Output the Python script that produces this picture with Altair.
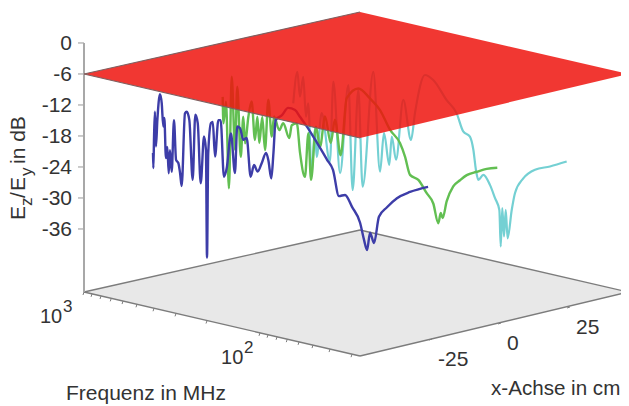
import altair as alt
import pandas as pd
import math

# ---- data: log10(frequency in MHz) and level in dB at each x position
blue_cm = -25
blue_logf = [3.00,2.998,2.994,2.989,2.983,2.975,2.96,2.95,2.941,2.935,2.926,2.918,2.91,2.903,2.893,2.88,2.868,2.855,2.845,2.836,2.817,2.807,2.792,2.773,2.758,2.744,2.727,2.708,2.697,2.691,2.684,2.668,2.658,2.645,2.626,2.613,2.594,2.578,2.554,2.531,2.518,2.502,2.483,2.464,2.441,2.422,2.401,2.378,2.353,2.34,2.323,2.311,2.298,2.262,2.227,2.187,2.159,2.119,2.061,2.004,1.97,1.936,1.901,1.861,1.815,1.792,1.775,1.758,1.735,1.707,1.661,1.604,1.529,1.426]
blue_db = [-24.3,-27.2,-21.1,-16.2,-22.9,-17.7,-12.6,-14.3,-18.7,-17.0,-24.7,-22.5,-27.5,-23.0,-27.1,-17.0,-24.6,-25.1,-27.0,-29.4,-15.2,-14.8,-16.3,-27.7,-15.0,-16.5,-28.0,-18.8,-21.3,-42.1,-21.9,-15.9,-15.6,-22.2,-15.0,-14.9,-25.7,-23.9,-17.0,-24.5,-15.4,-15.6,-17.7,-17.2,-24.5,-22.1,-23.2,-21.4,-19.2,-20.5,-23.9,-19.0,-12.4,-11.2,-9.5,-9.6,-10.7,-12.3,-15.0,-17.8,-19.5,-24.3,-23.8,-25.8,-28.5,-31.7,-33.5,-30.0,-31.8,-26.5,-24.3,-22.1,-20.3,-18.5]

green_cm = 0
green_logf = [2.996,2.992,2.977,2.96,2.944,2.925,2.912,2.892,2.877,2.867,2.848,2.829,2.81,2.796,2.785,2.768,2.752,2.733,2.713,2.7,2.67,2.647,2.612,2.598,2.569,2.55,2.522,2.502,2.487,2.458,2.435,2.406,2.373,2.349,2.316,2.281,2.214,2.147,2.089,2.031,1.974,1.945,1.916,1.868,1.82,1.782,1.753,1.739,1.728,1.705,1.667,1.628,1.589,1.531,1.474,1.413]
green_db = [-16.4,-21.5,-17.2,-33.8,-12.1,-26.1,-13.8,-27.2,-19.3,-24.4,-19.1,-16.0,-23.3,-18.7,-23.7,-18.5,-24.8,-14.9,-21.9,-17.9,-20.3,-18.8,-21.4,-18.8,-18.2,-23.8,-28.2,-19.6,-28.5,-18.0,-21.7,-15.6,-20.5,-15.8,-22.4,-11.1,-8.7,-10.1,-11.9,-15.3,-17.4,-19.8,-23.1,-23.7,-25.9,-27.6,-31.2,-29.1,-30.0,-26.6,-23.4,-21.9,-20.6,-19.5,-18.5,-17.8]

cyan_cm = 25
cyan_logf = [2.987,2.963,2.948,2.929,2.913,2.9,2.88,2.861,2.851,2.822,2.774,2.754,2.715,2.667,2.642,2.609,2.584,2.522,2.483,2.46,2.429,2.415,2.39,2.348,2.303,2.28,2.222,2.174,2.096,2.038,2.0,1.961,1.941,1.926,1.912,1.883,1.844,1.815,1.79,1.782,1.773,1.763,1.753,1.742,1.718,1.699,1.651,1.583,1.496,1.399]
cyan_db = [-20.6,-14.3,-19.0,-15.0,-22.6,-19.9,-33.6,-24.4,-29.9,-21.2,-30.2,-14.6,-32.0,-14.6,-34.7,-15.1,-33.6,-10.9,-29.9,-22.3,-28.2,-22.6,-26.9,-15.0,-22.4,-17.0,-9.2,-9.8,-13.1,-15.2,-18.4,-19.1,-21.5,-25.3,-27.1,-25.9,-27.6,-29.9,-32.0,-39.0,-31.5,-36.9,-31.7,-37.1,-31.4,-28.0,-24.8,-22.6,-21.3,-19.6]

db_ticks = [0, -6, -12, -18, -24, -30, -36]
cm_ticks = [-25, 0, 25]
freq_major = [1000, 100]
freq_minor = [900, 800, 700, 600, 500, 400, 300, 200, 90, 80, 70, 60, 50, 40, 30]
plane_db = -6
floor_db = -48.2
cm_min, cm_max = -50, 50
logf_max, logf_min = 3.0, 1.432

# ---- the 3-D view: corners of the floor on the page and the height of one dB
CORNERS = {"L": (84, 292), "B": (360, 230), "F": (360, 356), "R": (628, 292)}
PX_PER_DB = 31 / 6

def project(cm, logf, db):
    u = (cm - cm_min) / (cm_max - cm_min)
    v = (logf_max - logf) / (logf_max - logf_min)
    w = {"L": (1 - u) * (1 - v), "B": u * (1 - v), "F": (1 - u) * v, "R": u * v}
    px = sum(w[k] * CORNERS[k][0] for k in w)
    py = sum(w[k] * CORNERS[k][1] for k in w) - (db - floor_db) * PX_PER_DB
    return px, py

X = alt.Scale(domain=[8, 621], nice=False, zero=False)
Y = alt.Scale(domain=[406, 8], nice=False, zero=False)
x_enc = lambda f="px": alt.X(f"{f}:Q", scale=X, axis=None, title=None)
y_enc = lambda f="py": alt.Y(f"{f}:Q", scale=Y, axis=None, title=None)

def series(cm, logf, db, color, width, opacity=1.0):
    rows = []
    for i, (f, d) in enumerate(zip(logf, db)):
        px, py = project(cm, f, d)
        rows.append({"i": i, "px": px, "py": py})
    return alt.Chart(pd.DataFrame(rows)).mark_line(
        color=color, strokeWidth=width, opacity=opacity, strokeJoin="round", interpolate="monotone"
    ).encode(x=x_enc(), y=y_enc(), order="i:Q")

def segs(pairs, color, width, opacity=1.0):
    rows = []
    for a, b in pairs:
        rows.append({"px": a[0], "py": a[1], "px2": b[0], "py2": b[1]})
    return alt.Chart(pd.DataFrame(rows)).mark_rule(color=color, strokeWidth=width, opacity=opacity).encode(
        x=x_enc(), y=y_enc(), x2="px2:Q", y2="py2:Q")

def diamond(db, fill, opacity=1.0):
    l = project(cm_min, logf_max, db)
    b = project(cm_max, logf_max, db)
    f = project(cm_min, logf_min, db)
    r = project(cm_max, logf_min, db)
    df = pd.DataFrame({"px": [l[0], f[0], r[0]], "py": [l[1], b[1], r[1]], "py2": [l[1], f[1], r[1]]})
    return alt.Chart(df).mark_area(color=fill, opacity=opacity, line=False).encode(
        x=x_enc(), y=y_enc(), y2="py2:Q")

def txt(items, size=20, color="#333333", align="left", angle=0):
    df = pd.DataFrame([{"px": a, "py": b, "t": t} for a, b, t in items])
    return alt.Chart(df).mark_text(
        font="Liberation Sans", fontSize=size, color=color, align=align, baseline="alphabetic", angle=angle
    ).encode(x=x_enc(), y=y_enc(), text="t:N")

GREY = "#7c7c7c"
corner = {k: project(a, b, floor_db) for k, (a, b) in {
    "L": (cm_min, logf_max), "B": (cm_max, logf_max), "F": (cm_min, logf_min), "R": (cm_max, logf_min)}.items()}
pl = {k: project(a, b, plane_db) for k, (a, b) in {
    "L": (cm_min, logf_max), "B": (cm_max, logf_max), "F": (cm_min, logf_min), "R": (cm_max, logf_min)}.items()}

layers = []
layers.append(diamond(floor_db, "#e8e8e8"))
layers.append(segs([(corner["L"], corner["B"]), (corner["B"], corner["R"]), (corner["L"], corner["F"]), (corner["F"], corner["R"])], GREY, 1.4))

# vertical dB axis
top = project(cm_min, logf_max, 0)
layers.append(segs([(top, corner["L"])], "#a8a8a8", 2))
y_ticks = [project(cm_min, logf_max, d) for d in db_ticks]
layers.append(segs([((p[0] - 6, p[1]), p) for p in y_ticks], "#a8a8a8", 1.2))
layers.append(txt([(p[0] - 12, p[1] + 7, str(d)) for p, d in zip(y_ticks, db_ticks)], size=21, align="right"))

# frequency ticks on the left front edge
f_pts = [project(cm_min, math.log10(f), floor_db) for f in freq_minor + freq_major]
layers.append(segs([(p, (p[0] - 1, p[1] + 3)) for p in f_pts], GREY, 1))
m = [project(cm_min, math.log10(f), floor_db) for f in freq_major]
layers.append(txt([(m[0][0] - 44, m[0][1] + 31, "10"), (m[1][0] - 39, m[1][1] + 31, "10")], size=20))
layers.append(txt([(m[0][0] - 21, m[0][1] + 20, "3"), (m[1][0] - 16, m[1][1] + 20, "2")], size=17))

# x ticks on the right front edge
CM_STRETCH = 1.03
x_pts = []
for c in cm_ticks:
    p = project(c, logf_min, floor_db)
    x_pts.append((corner["F"][0] + (p[0] - corner["F"][0]) * CM_STRETCH, p[1]))
layers.append(segs([(p, (p[0] + 3, p[1] - 1)) for p in x_pts], GREY, 1))
layers.append(txt([(p[0] + 9, p[1] + 26, str(c)) for p, c in zip(x_pts, cm_ticks)], size=21))

# axis titles
layers.append(txt([(66, 400, "Frequenz in MHz")], size=21))
layers.append(txt([(491, 395, "x-Achse in cm")], size=20.6))
layers.append(txt([(25, 220, "E"), (25, 191, "E")], size=21, angle=270))
layers.append(txt([(25, 198, "/")], size=21, angle=270))
layers.append(txt([(25, 164, "in dB")], size=21, angle=270))
layers.append(txt([(32, 206, "z"), (32, 176, "y")], size=17, angle=270))

# measured curves
layers.append(series(cyan_cm, cyan_logf, cyan_db, "#74d0d3", 2.2))
layers.append(series(green_cm, green_logf, green_db, "#62bf52", 2.4))
layers.append(series(blue_cm, blue_logf, blue_db, "#3d3da8", 2.4))

# -6 dB limit plane
layers.append(diamond(plane_db, "#ee140e", 0.85))
layers.append(segs([(pl["L"], pl["B"]), (pl["L"], pl["F"])], "#806060", 1.2))

chart = alt.layer(*layers).properties(
    width=613, height=398, padding=0, autosize=alt.AutoSizeParams(type="none"), background="white"
).configure_view(stroke=None)

chart.save("out.html", embed_options={"renderer": "svg", "actions": False})
